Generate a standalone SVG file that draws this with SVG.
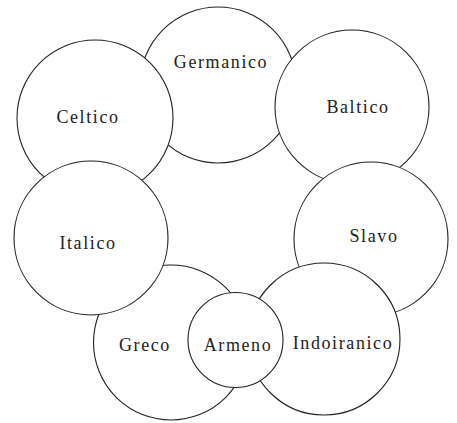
<svg xmlns="http://www.w3.org/2000/svg" width="457" height="423" viewBox="0 0 457 423">
<style>
.c{fill:#fff;stroke:#222;stroke-width:1.1}
.t{font-family:"Liberation Serif",serif;font-size:18px;letter-spacing:1.6px;fill:#222;text-anchor:middle}
</style>
<rect width="457" height="423" fill="#fff"/>
<g id="germanico"><circle class="c" cx="218" cy="85" r="78"/><text class="t" x="221" y="68">Germanico</text></g>
<g id="celtico"><circle class="c" cx="95" cy="118" r="78"/><text class="t" x="88" y="123">Celtico</text></g>
<g id="baltico"><circle class="c" cx="352" cy="107" r="77"/><text class="t" x="358" y="113">Baltico</text></g>
<g id="greco"><circle class="c" cx="171" cy="342.5" r="77.5"/><text class="t" x="145" y="351">Greco</text></g>
<g id="italico"><circle class="c" cx="91" cy="238" r="77"/><text class="t" x="88" y="249">Italico</text></g>
<g id="slavo"><circle class="c" cx="371" cy="239" r="77"/><text class="t" x="374" y="242">Slavo</text></g>
<g id="indoiranico"><circle class="c" cx="324" cy="339" r="76"/><text class="t" x="343" y="349">Indoiranico</text></g>
<g id="armeno"><circle class="c" cx="235.5" cy="340" r="47.5"/><text class="t" x="238" y="351">Armeno</text></g>
<g id="connectors"></g>
</svg>
